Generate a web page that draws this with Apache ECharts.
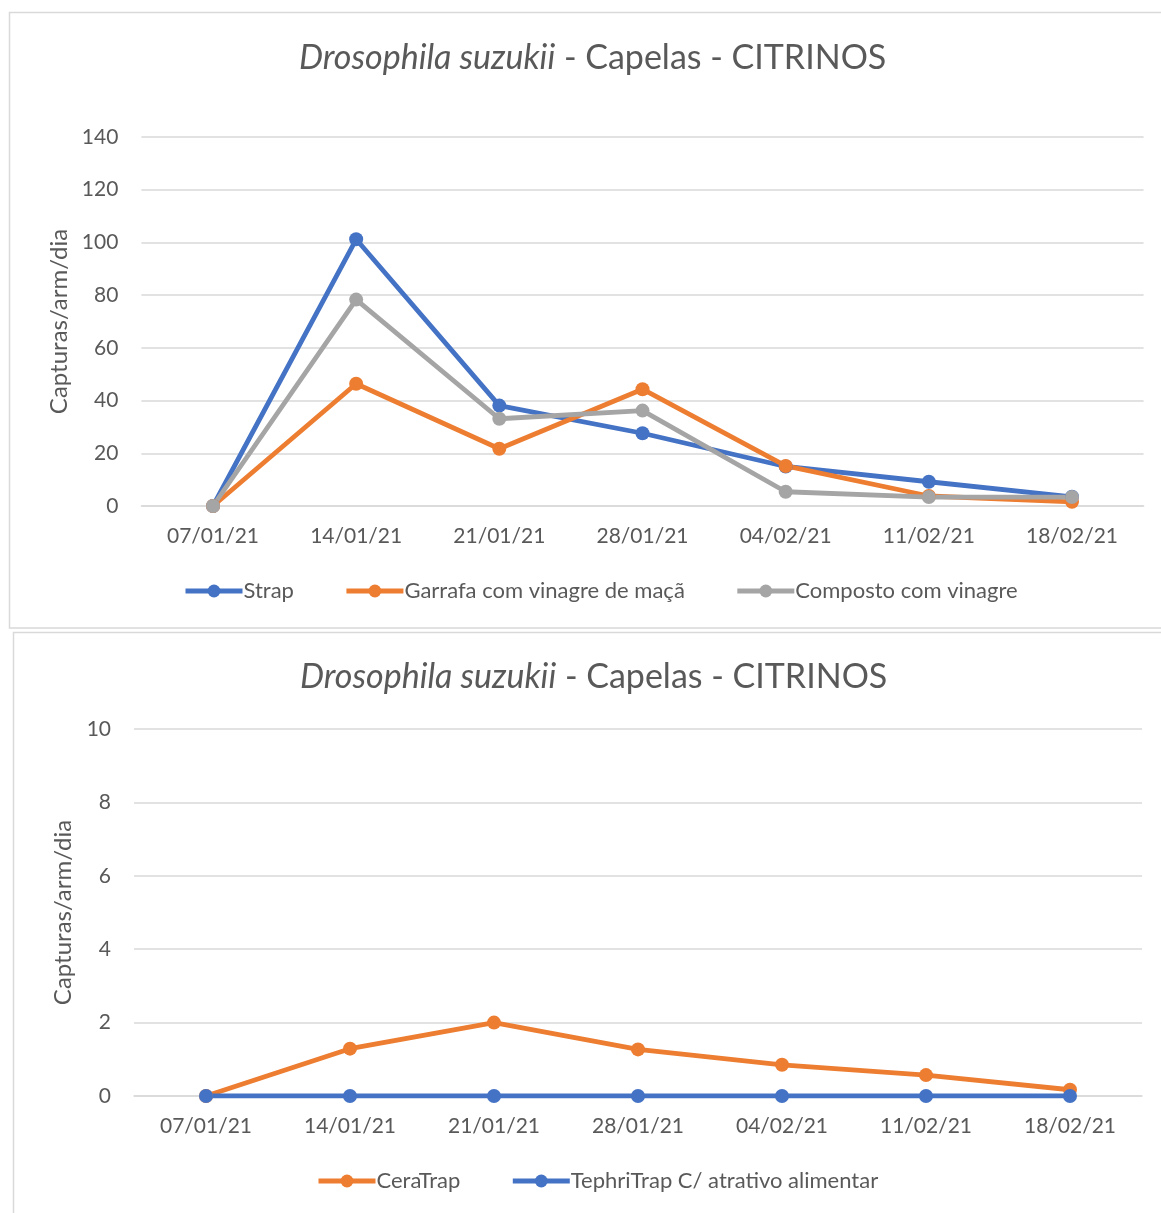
<!DOCTYPE html>
<html>
<head>
<meta charset="utf-8">
<script src="https://cdn.jsdelivr.net/npm/echarts@6/dist/echarts.min.js"></script>
<style>
html,body{margin:0;padding:0;background:#fff;}
#c{width:1161px;height:1213px;}
</style>
</head>
<body>
<div id="c"></div>
<script>
const categories = ['07/01/21','14/01/21','21/01/21','28/01/21','04/02/21','11/02/21','18/02/21'];

const strap = [0, 101.2, 38.1, 27.6, 15.0, 9.2, 3.5];
const garrafa = [0, 46.4, 21.7, 44.3, 15.2, 3.8, 1.6];
const composto = [0, 78.3, 33.1, 36.2, 5.4, 3.4, 3.4];

const ceraTrap = [0, 1.29, 2.0, 1.27, 0.85, 0.57, 0.17];
const tephriTrap = [0, 0, 0, 0, 0, 0, 0];

const titleMain = 'Drosophila suzukii';
const titleRest = ' - Capelas - CITRINOS';
const yName = 'Capturas/arm/dia';

const FONT = 'Lato';
const TXT = '#595959';
const GRIDC = '#D9D9D9';
const BLUE = '#4472C4', ORANGE = '#ED7D31', GRAY = '#A5A5A5';

const chart = echarts.init(document.getElementById('c'), null, {renderer:'canvas'});

function xAxis(gi){
  return {
    type:'category', gridIndex:gi, data:categories, boundaryGap:true,
    axisLine:{lineStyle:{color:GRIDC, width:1.5}},
    axisTick:{show:false},
    axisLabel:{color:TXT, fontFamily:FONT, fontSize:21, margin:20}
  };
}
function yAxis(gi, max, interval, gap){
  return {
    type:'value', gridIndex:gi, min:0, max:max, interval:interval,
    name:yName, nameLocation:'middle', nameGap:gap, nameRotate:90,
    nameTextStyle:{color:TXT, fontFamily:FONT, fontSize:24},
    axisLine:{show:false}, axisTick:{show:false},
    axisLabel:{color:TXT, fontFamily:FONT, fontSize:21, margin:23},
    splitLine:{lineStyle:{color:GRIDC, width:1.5}}
  };
}
function line(name, data, color, xi, yi){
  return {
    type:'line', name:name, data:data, xAxisIndex:xi, yAxisIndex:yi,
    symbol:'circle', symbolSize:14,
    itemStyle:{color:color},
    lineStyle:{color:color, width:4.8},
    emphasis:{disabled:true}, animation:false
  };
}
const titleStyle = {
  color:TXT, fontFamily:FONT, fontSize:34, fontWeight:'normal',
  rich:{i:{fontStyle:'italic', fontWeight:'normal', color:TXT, fontFamily:FONT, fontSize:34}}
};
const legendBase = {
  itemWidth:57, itemHeight:16, itemGap:50,
  lineStyle:{width:5},
  textStyle:{color:TXT, fontFamily:FONT, fontSize:22, padding:[0,0,0,-4]}
};

chart.setOption({
  backgroundColor:'#fff',
  animation:false,
  graphic:[
    {type:'rect', shape:{x:9.5, y:12.5, width:1170, height:615.5}, style:{fill:'none', stroke:'#D9D9D9', lineWidth:1.5}, silent:true},
    {type:'rect', shape:{x:13.5, y:632.5, width:1170, height:600}, style:{fill:'none', stroke:'#D9D9D9', lineWidth:1.5}, silent:true}
  ],
  title:[
    {text:'{i|'+titleMain+'}'+titleRest, left:294, top:36, textStyle:titleStyle},
    {text:'{i|'+titleMain+'}'+titleRest, left:295, top:655, textStyle:titleStyle}
  ],
  legend:[
    Object.assign({data:['Strap','Garrafa com vinagre de maçã','Composto com vinagre'], top:575, left:178}, legendBase),
    Object.assign({data:['CeraTrap','TephriTrap C/ atrativo alimentar'], top:1165, left:311}, legendBase)
  ],
  grid:[
    {left:141.4, right:17.4, top:137, height:369},
    {left:134, right:19, top:729, height:367}
  ],
  xAxis:[xAxis(0), xAxis(1)],
  yAxis:[yAxis(0, 140, 20, 66), yAxis(1, 10, 2, 58)],
  series:[
    line('Strap', strap, BLUE, 0, 0),
    line('Garrafa com vinagre de maçã', garrafa, ORANGE, 0, 0),
    line('Composto com vinagre', composto, GRAY, 0, 0),
    line('CeraTrap', ceraTrap, ORANGE, 1, 1),
    line('TephriTrap C/ atrativo alimentar', tephriTrap, BLUE, 1, 1)
  ]
});
</script>
</body>
</html>
